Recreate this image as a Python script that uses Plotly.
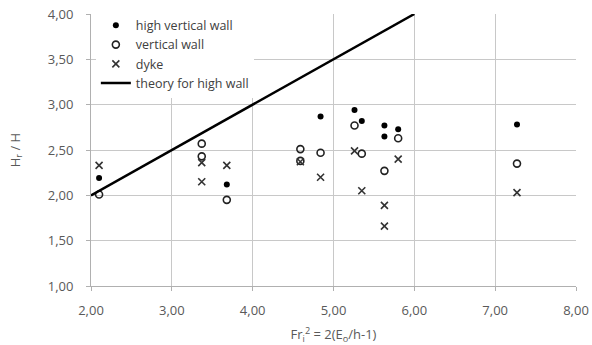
import plotly.graph_objects as go

# data
hv_x = [2.10, 3.68, 4.84, 5.26, 5.35, 5.63, 5.63, 5.80, 7.27]
hv_y = [2.19, 2.12, 2.87, 2.94, 2.82, 2.77, 2.65, 2.73, 2.78]

vw_x = [2.10, 3.37, 3.37, 3.68, 4.59, 4.59, 4.84, 5.26, 5.35, 5.63, 5.80, 7.27]
vw_y = [2.01, 2.57, 2.43, 1.95, 2.51, 2.38, 2.47, 2.77, 2.46, 2.27, 2.63, 2.35]

dk_x = [2.10, 3.37, 3.37, 3.68, 4.59, 4.84, 5.26, 5.35, 5.63, 5.63, 5.80, 7.27]
dk_y = [2.33, 2.36, 2.15, 2.33, 2.37, 2.20, 2.49, 2.05, 1.89, 1.66, 2.40, 2.03]

th_x = [2.0, 6.0]
th_y = [2.0, 4.0]

FONT = "Open Sans"

fig = go.Figure()
fig.add_trace(go.Scatter(x=hv_x, y=hv_y, mode="markers", name="high vertical wall",
                         marker=dict(symbol="circle", size=6, color="black")))
fig.add_trace(go.Scatter(x=vw_x, y=vw_y, mode="markers", name="vertical wall",
                         marker=dict(symbol="circle-open", size=7, color="#222",
                                     line=dict(width=1.6))))
fig.add_trace(go.Scatter(x=dk_x, y=dk_y, mode="markers", name="dyke",
                         marker=dict(symbol="x-thin-open", size=7, color="#333",
                                     line=dict(width=1.6, color="#333"))))
fig.add_trace(go.Scatter(x=th_x, y=th_y, mode="lines", name="theory for high wall",
                         line=dict(color="black", width=2.5)))

fig.update_layout(
    width=592, height=345,
    margin=dict(l=91, r=16, t=14, b=59, autoexpand=False),
    paper_bgcolor="white", plot_bgcolor="white",
    separators=",.",
    font=dict(family=FONT, size=13, color="#595959"),
    showlegend=True,
    legend=dict(x=0.01, y=1.012, xanchor="left", yanchor="top",
                bgcolor="white", borderwidth=0,
                font=dict(family=FONT, size=12.5, color="#404040"),
                tracegroupgap=0, itemwidth=30),
    xaxis=dict(range=[2, 8], dtick=1, tickformat=".2f", automargin=False,
               showgrid=True, gridcolor="#c8c8c8", gridwidth=1,
               showline=True, linecolor="#b0b0b0", mirror=False,
               ticks="outside", ticklen=4, tickcolor="#b0b0b0",
               ticklabelstandoff=8,
               zeroline=False,
               title=dict(text="Fr<sub>i</sub><sup>2</sup> = 2(E<sub>o</sub>/h-1)",
                          font=dict(family=FONT, size=13, color="#595959"), standoff=15)),
    yaxis=dict(range=[1, 4], dtick=0.5, tickformat=".2f", automargin=False,
               showgrid=True, gridcolor="#c8c8c8", gridwidth=1,
               showline=True, linecolor="#b0b0b0",
               ticks="outside", ticklen=4, tickcolor="#b0b0b0",
               ticklabelstandoff=10,
               zeroline=False,
               title=dict(text="H<sub>r</sub> / H",
                          font=dict(family=FONT, size=13, color="#595959"), standoff=24)),
)

fig.write_html("out.html")
